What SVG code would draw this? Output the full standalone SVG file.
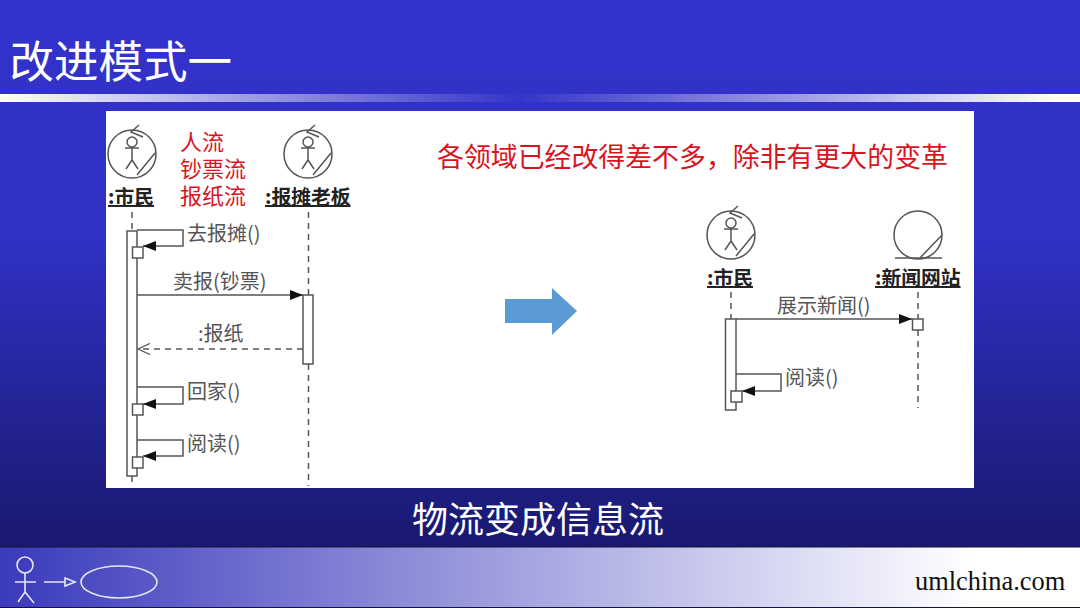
<svg xmlns="http://www.w3.org/2000/svg" width="1080" height="608" viewBox="0 0 1080 608">
<style>
text{font-family:"Noto Sans CJK SC","Liberation Sans",sans-serif}
.ln{fill:none;stroke:#555;stroke-width:1.5}
.dash{fill:none;stroke:#555;stroke-width:1.5;stroke-dasharray:6 5}
.box{fill:#fff;stroke:#555;stroke-width:1.5}
.name{font-size:19.800px;font-weight:700;fill:#222;text-decoration:underline}
.msg{font-size:20px;fill:#555}
.red{fill:#d8141c;font-size:22px}
.ft{fill:none;stroke:#e6e6f8;stroke-width:1.6}
</style>
<defs>
<linearGradient id="bg" x1="0" y1="0" x2="0" y2="1"><stop offset="0" stop-color="#3333cc"/><stop offset=".4" stop-color="#3030c4"/><stop offset="1" stop-color="#14145e"/></linearGradient>
<linearGradient id="bar" x1="0" y1="0" x2="1" y2="0"><stop offset="0" stop-color="#fff"/><stop offset=".48" stop-color="#3434c8"/><stop offset=".98" stop-color="#fff"/></linearGradient>
<linearGradient id="foot" x1="0" y1="0" x2="1" y2="0"><stop offset="0" stop-color="#3a3abc"/><stop offset=".9" stop-color="#fff"/><stop offset="1" stop-color="#fff"/></linearGradient>
<marker id="fill" markerWidth="14" markerHeight="10" refX="13" refY="5" orient="auto" markerUnits="userSpaceOnUse"><path d="M0 0L13 5L0 10z" fill="#111"/></marker>
<marker id="open" markerWidth="14" markerHeight="12" refX="12.500" refY="6" orient="auto" markerUnits="userSpaceOnUse"><path d="M0.500 0.500L12.500 6L0.500 11.500" fill="none" stroke="#555" stroke-width="1.3"/></marker>
<g id="actor"><circle r="24" cx="0" cy="0" class="ln"/><circle cx="0" cy="-12" r="5" class="ln"/><path class="ln" d="M0-7V6M-7-6H7M0 6L-6 15M0 6L6 15M7-29L-1-22L11-17M23-1L5 21"/></g>
</defs>
<rect width="1080" height="608" fill="url(#bg)"/>
<text x="9.500" y="78" font-size="44.500" fill="#fff">改进模式一</text>
<rect x="0" y="94" width="1080" height="8" fill="url(#bar)"/>
<rect x="106" y="111" width="868" height="377" fill="#fff"/>

<g id="actor-citizen-1"><use href="#actor" x="132" y="154"/><text class="name" x="108" y="204">:市民</text></g>
<g id="actor-vendor"><use href="#actor" x="308" y="154"/><text class="name" x="265" y="204">:报摊老板</text></g>
<g id="legend"><text class="red" x="180" y="150">人流</text><text class="red" x="180" y="177">钞票流</text><text class="red" x="180" y="204">报纸流</text></g>
<g id="note"><text x="437" y="167" font-size="26.900" fill="#d8141c">各领域已经改得差不多，除非有更大的变革</text></g>

<g id="connectors">
<path class="dash" d="M132 212V231M132 476V484M308.500 212V295M308.500 364V486M731 292V319M918 292V319M918 330V408"/>
<path class="ln" d="M137 230H183V246H143" marker-end="url(#fill)"/>
<path class="ln" d="M137 295H303" marker-end="url(#fill)"/>
<path class="dash" d="M303 349H138" marker-end="url(#open)"/>
<path class="ln" d="M137 387H183V404H143" marker-end="url(#fill)"/>
<path class="ln" d="M137 440H183V456H143" marker-end="url(#fill)"/>
<path class="ln" d="M736 319H912" marker-end="url(#fill)"/>
<path class="ln" d="M736 374H781V391H742" marker-end="url(#fill)"/>
</g>

<g id="activations">
<rect class="box" x="127" y="231" width="10" height="245" fill-opacity="0"/>
<rect class="box" x="132.500" y="247" width="10.500" height="11"/>
<rect class="box" x="132.500" y="404" width="10.500" height="11"/>
<rect class="box" x="132.500" y="457" width="10.500" height="11"/>
<rect class="box" x="303" y="295" width="10" height="69"/>
<rect class="box" x="725.500" y="319" width="10.500" height="91"/>
<rect class="box" x="731" y="391" width="11" height="11"/>
<rect class="box" x="912.500" y="319" width="10.500" height="11"/>
</g>
<g id="labels">
<text class="msg" x="187" y="241">去报摊()</text>
<text class="msg" x="173" y="289">卖报(钞票)</text>
<text class="msg" x="198" y="341">:报纸</text>
<text class="msg" x="187" y="399">回家()</text>
<text class="msg" x="187" y="451">阅读()</text>
<text class="msg" x="777" y="313">展示新闻()</text>
<text class="msg" x="785" y="385">阅读()</text>
</g>

<g id="arrow"><path d="M505 299H552V288L577 311L552 335V323H505z" fill="#5b9bd5"/></g>

<g id="actor-citizen-2"><use href="#actor" x="731" y="235"/><text class="name" x="707" y="285">:市民</text></g>
<g id="entity-news"><circle cx="918" cy="235" r="24" class="ln"/><path class="ln" d="M895 258H942M942 235L920 258"/><text class="name" x="875" y="285">:新闻网站</text></g>

<text x="412" y="533" font-size="36" fill="#fff">物流变成信息流</text>

<g id="footer"><rect x="0" y="547" width="1080" height="61" fill="url(#foot)"/>
<path d="M0 547H1080M0 607.500H1080" fill="none" stroke="#14143c" stroke-width="1"/>
<circle class="ft" cx="25" cy="565" r="8"/>
<path class="ft" d="M25 573V592M15 582H36M25 592L18 602M25 592L34 603M44 582H65M65 578L75 582L65 586z"/>
<ellipse class="ft" cx="119" cy="582" rx="38" ry="16"/>
<text x="915" y="590" font-size="26.400" fill="#111" style="font-family:'Liberation Serif',serif">umlchina.com</text></g>
</svg>
